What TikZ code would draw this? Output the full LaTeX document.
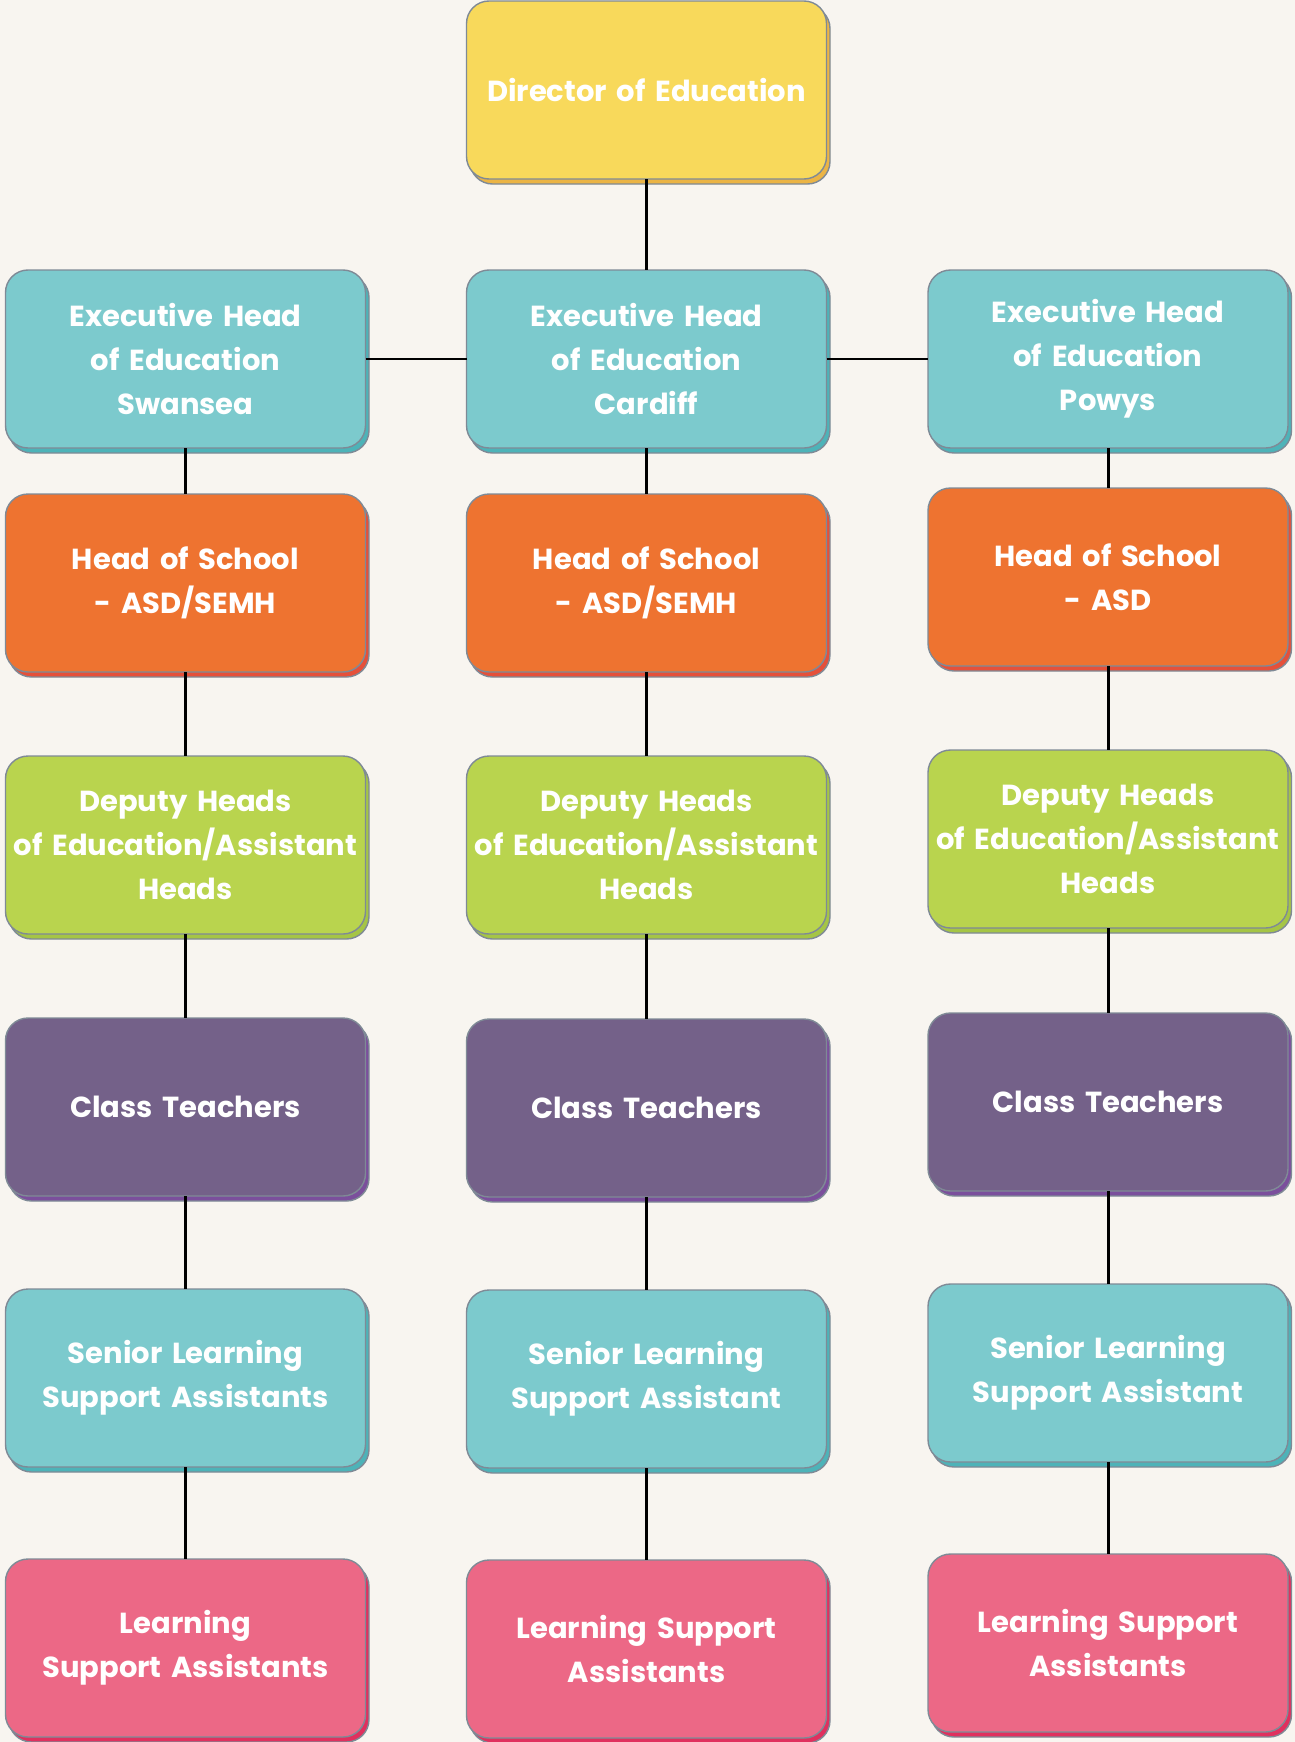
\documentclass[tikz,border=0pt]{standalone}
\usepackage{fontspec}
\setmainfont{Poppins}
\usetikzlibrary{shadows,positioning}

\definecolor{bgcol}{HTML}{F8F5F0}
\definecolor{edgecol}{HTML}{7F8A96}
\definecolor{yelf}{HTML}{F8D95B}
\definecolor{yeld}{HTML}{EBB445}
\definecolor{tealf}{HTML}{7CCACD}
\definecolor{teald}{HTML}{4DB3B8}
\definecolor{orf}{HTML}{EE7330}
\definecolor{ord}{HTML}{E5503A}
\definecolor{grf}{HTML}{B9D44E}
\definecolor{grd}{HTML}{A5C545}
\definecolor{puf}{HTML}{746189}
\definecolor{pud}{HTML}{7B4F9C}
\definecolor{pif}{HTML}{EC6886}
\definecolor{pid}{HTML}{E0305E}

\begin{document}
\begin{tikzpicture}[font=\bfseries\fontsize{16.5}{25}\selectfont,
		box/.style={rounded corners=0.45cm, draw=edgecol, line width=0.8pt, minimum width=7.2cm, minimum height=3.56cm, text width=7.1cm, inner sep=0pt, outer sep=0pt, align=center, text=white},
		boxc/.style 2 args={box, fill=#1, copy shadow={shadow xshift=0.07cm, shadow yshift=-0.1cm, fill=#2, draw=edgecol}},
		dirbox/.style={boxc={yelf}{yeld}},
		execbox/.style={boxc={tealf}{teald}},
		headbox/.style={boxc={orf}{ord}},
		depbox/.style={boxc={grf}{grd}},
		classbox/.style={boxc={puf}{pud}},
		lsabox/.style={boxc={pif}{pid}},
		conn/.style={line width=1.7pt, black}]
	\fill[bgcol] (0,0) rectangle (25.9,-34.84);
	\useasboundingbox (0,0) rectangle (25.9,-34.84);

	\node[dirbox] (dir) at (12.93,-1.8) {Director of Education};

	% executive heads
	\node[execbox, below=1.82cm of dir] (exM) {Executive Head\\of Education\\Cardiff};
	\node[execbox, left=2.02cm of exM] (exL) {Executive Head\\of Education\\Swansea};
	\node[execbox, right=2.03cm of exM] (exR) {Executive Head\\of Education\\Powys};

	% left column
	\node[headbox, below=0.92cm of exL] (hdL) {Head of School\\- ASD/SEMH};
	\node[depbox, below=1.68cm of hdL] (dpL) {Deputy Heads\\of Education/Assistant\\Heads};
	\node[classbox, below=1.68cm of dpL] (ctL) {Class Teachers};
	\node[execbox, below=1.86cm of ctL] (slL) {Senior Learning\\Support Assistants};
	\node[lsabox, below=1.84cm of slL] (laL) {Learning\\Support Assistants};

	% middle column
	\node[headbox, below=0.92cm of exM] (hdM) {Head of School\\- ASD/SEMH};
	\node[depbox, below=1.68cm of hdM] (dpM) {Deputy Heads\\of Education/Assistant\\Heads};
	\node[classbox, below=1.7cm of dpM] (ctM) {Class Teachers};
	\node[execbox, below=1.86cm of ctM] (slM) {Senior Learning\\Support Assistant};
	\node[lsabox, below=1.84cm of slM] (laM) {Learning Support\\Assistants};

	% right column
	\node[headbox, below=0.8cm of exR] (hdR) {Head of School\\- ASD};
	\node[depbox, below=1.68cm of hdR] (dpR) {Deputy Heads\\of Education/Assistant\\Heads};
	\node[classbox, below=1.7cm of dpR] (ctR) {Class Teachers};
	\node[execbox, below=1.86cm of ctR] (slR) {Senior Learning\\Support Assistant};
	\node[lsabox, below=1.84cm of slR] (laR) {Learning Support\\Assistants};

	\draw[conn] (dir) -- (exM);
	\draw[conn] (exL) -- (exM);
	\draw[conn] (exM) -- (exR);

	\draw[conn] (exL) -- (hdL);
	\draw[conn] (hdL) -- (dpL);
	\draw[conn] (dpL) -- (ctL);
	\draw[conn] (ctL) -- (slL);
	\draw[conn] (slL) -- (laL);

	\draw[conn] (exM) -- (hdM);
	\draw[conn] (hdM) -- (dpM);
	\draw[conn] (dpM) -- (ctM);
	\draw[conn] (ctM) -- (slM);
	\draw[conn] (slM) -- (laM);

	\draw[conn] (exR) -- (hdR);
	\draw[conn] (hdR) -- (dpR);
	\draw[conn] (dpR) -- (ctR);
	\draw[conn] (ctR) -- (slR);
	\draw[conn] (slR) -- (laR);
\end{tikzpicture}
\end{document}
